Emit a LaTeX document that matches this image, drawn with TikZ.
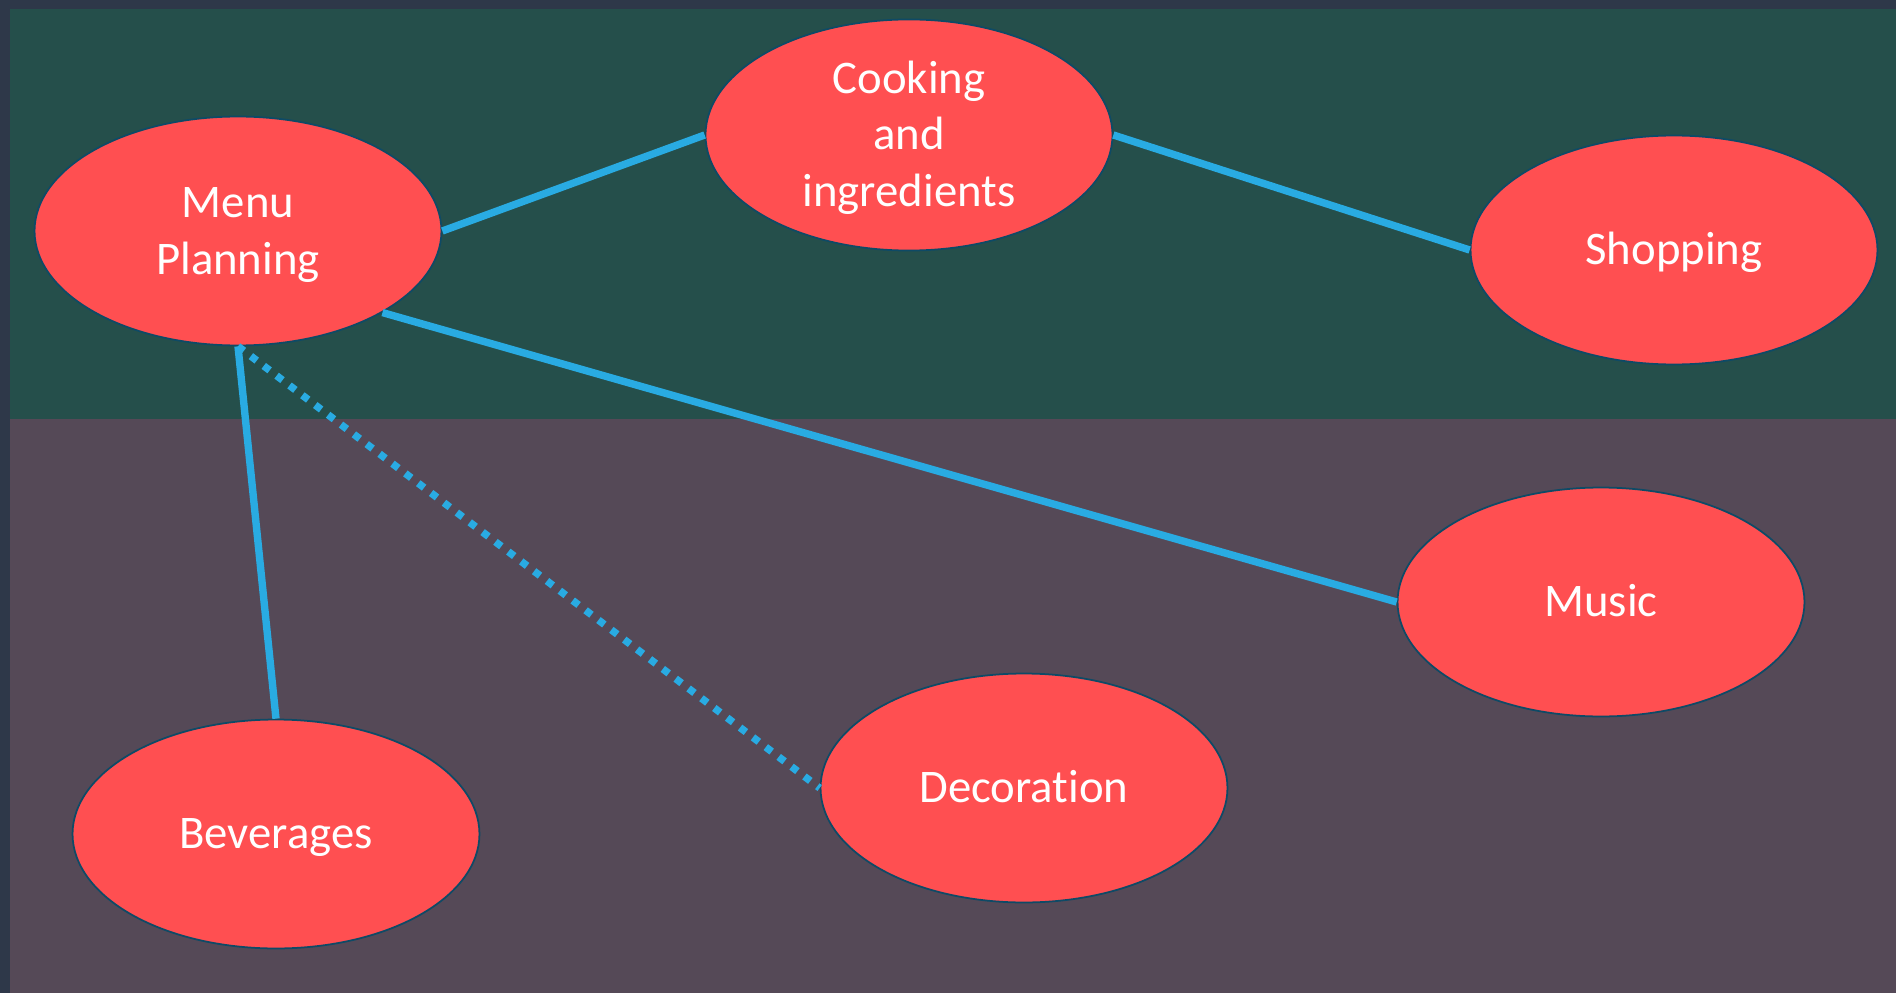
\documentclass[tikz,border=0pt]{standalone}
\usepackage{fontspec}
\setmainfont{Carlito}[Ligatures=NoCommon]
\usetikzlibrary{shapes.geometric}

\definecolor{framecol}{HTML}{2E3849}
\definecolor{topband}{HTML}{254F4B}
\definecolor{lowband}{HTML}{554957}
\definecolor{bubblefill}{HTML}{FF4F51}
\definecolor{bubbleline}{HTML}{0E4A66}
\definecolor{linkblue}{HTML}{29ABE2}

% one line of bubble text, same height and depth for every line
\newcommand\bline[1]{\rule[-6pt]{0pt}{29pt}#1}

\tikzset{
	bubble/.style={ellipse, draw=bubbleline, line width=1pt, fill=bubblefill,
		minimum width=8.14cm, minimum height=4.58cm, inner sep=0pt,
		text=white, align=center, font=\fontsize{26.6}{32}\selectfont},
	link/.style={draw=linkblue, line width=4.2pt},
	dotlink/.style={link, dash pattern=on 4.2pt off 5pt}
}

\begin{document}
\begin{tikzpicture}[x=0.02cm, y=-0.02cm]
			%%%%% START %%%%%
			
			\useasboundingbox (0, 0) rectangle (1896, 993);
			\fill[framecol] (0, 0) rectangle (1896, 993);
			\fill[topband] (10, 9) rectangle (1896, 419);
			\fill[lowband] (10, 419) rectangle (1896, 993);
			
			\node[bubble] (menu) at (238, 231) {\bline{Menu}\\\bline{Planning}};
			\node[bubble] (cook) at (909, 135) {\bline{Cooking}\\\bline{and}\\\bline{ingredients}};
			\node[bubble] (shop) at (1674, 250) {\bline{Shopping}};
			\node[bubble] (music) at (1601, 602) {\bline{Music}};
			\node[bubble] (deco) at (1024, 788) {\bline{Decoration}};
			\node[bubble] (bev) at (276, 834) {\bline{Beverages}};
			
			\draw[link] (menu.east) -- (cook.west);
			\draw[link] (cook.east) -- (shop.west);
			\draw[link] (menu.south east) -- (music.west);
			\draw[link] (menu.south) -- (bev.north);
			\draw[dotlink] (menu.south) -- (deco.west);
			
			%%%%% END %%%%%
		\end{tikzpicture}
\end{document}
